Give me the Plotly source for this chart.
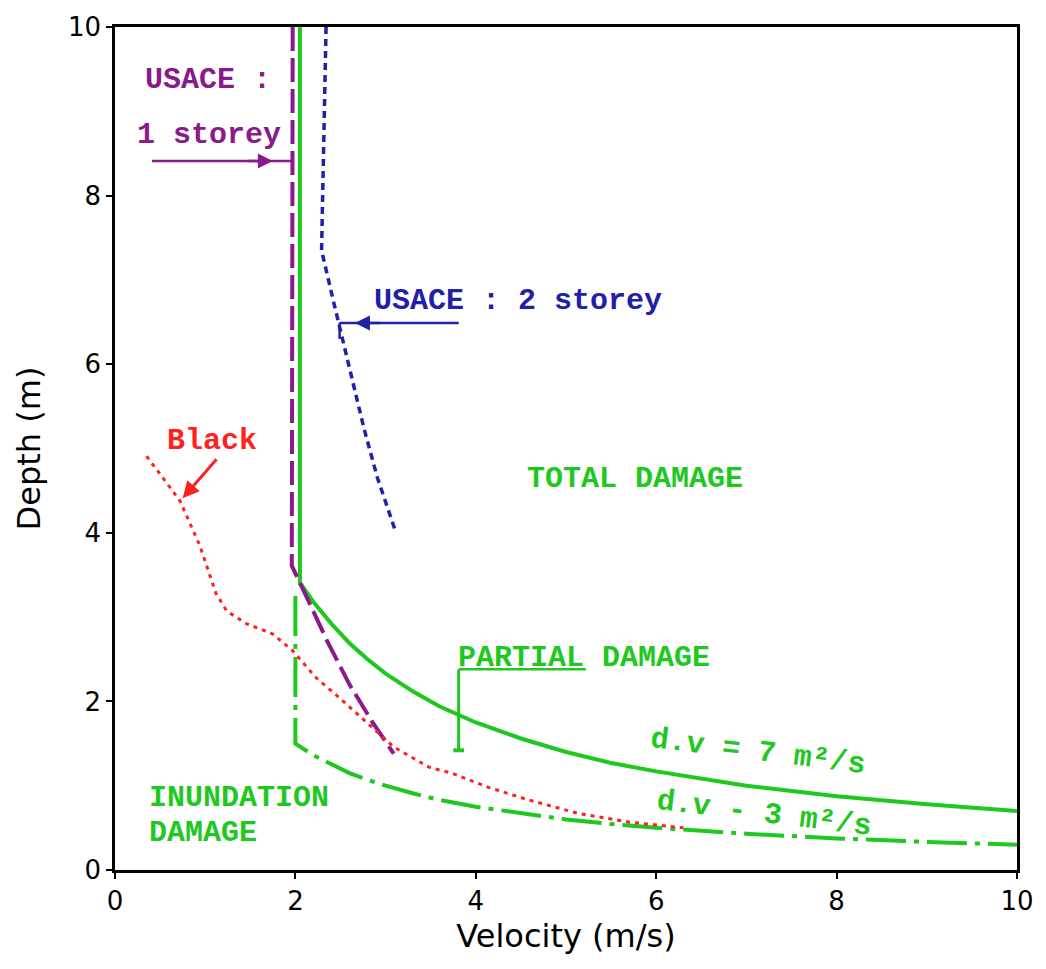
import plotly.graph_objects as go

# Damage thresholds: depth (m) against velocity (m/s)

# d.v = 7 m2/s limit (vertical at ~2 m/s, then the d.v curve)
dv7_v = [2.05, 2.05, 2.2, 2.4, 2.6, 2.8, 3.0, 3.3, 3.6, 4.0, 4.5, 5.0, 5.5, 6.0, 7.0, 8.0, 9.0, 10.0]
dv7_d = [10.0, 3.41, 3.18, 2.92, 2.69, 2.50, 2.33, 2.12, 1.94, 1.75, 1.56, 1.40, 1.27, 1.17, 1.00, 0.875, 0.78, 0.70]

# d.v = 3 m2/s limit
dv3_v = [2.0, 2.0, 2.2, 2.4, 2.6, 2.8, 3.0, 3.3, 3.6, 4.0, 4.5, 5.0, 5.5, 6.0, 7.0, 8.0, 9.0, 10.0]
dv3_d = [3.25, 1.50, 1.36, 1.25, 1.15, 1.07, 1.00, 0.91, 0.83, 0.75, 0.67, 0.60, 0.545, 0.50, 0.43, 0.375, 0.333, 0.30]

# USACE : 1 storey
usace1_v = [1.97, 1.96, 2.15, 2.35, 2.60, 2.85, 3.09]
usace1_d = [10.0, 3.61, 3.18, 2.72, 2.20, 1.76, 1.38]

# USACE : 2 storey
usace2_v = [2.34, 2.29, 2.43, 2.60, 2.76, 2.91, 3.10]
usace2_d = [10.0, 7.35, 6.71, 5.95, 5.24, 4.65, 4.05]

# Black
black_v = [0.35, 0.72, 0.94, 1.12, 1.24, 1.46, 1.75, 1.97, 2.23, 2.49, 2.78, 3.09, 3.48,
           3.73, 4.14, 4.59, 5.14, 5.69, 6.30]
black_d = [4.91, 4.38, 3.85, 3.28, 3.07, 2.92, 2.80, 2.60, 2.28, 2.04, 1.76, 1.46, 1.22,
           1.15, 0.98, 0.83, 0.67, 0.57, 0.50]

x_ticks = [0, 2, 4, 6, 8, 10]
y_ticks = [0, 2, 4, 6, 8, 10]

GREEN = "#1ec81e"
PURPLE = "#8a1a8a"
BLUE = "#2020a8"
RED = "#ff2020"
MONO = "Liberation Mono"

fig = go.Figure()
fig.add_trace(go.Scatter(x=dv7_v, y=dv7_d, mode="lines",
                         line=dict(color=GREEN, width=4)))
fig.add_trace(go.Scatter(x=dv3_v, y=dv3_d, mode="lines",
                         line=dict(color=GREEN, width=4, dash="40px,8px,5px,8px")))
fig.add_trace(go.Scatter(x=usace1_v, y=usace1_d, mode="lines",
                         line=dict(color=PURPLE, width=4, dash="24px,7px")))
fig.add_trace(go.Scatter(x=usace2_v, y=usace2_d, mode="lines",
                         line=dict(color=BLUE, width=3.5, dash="7px,5px")))
fig.add_trace(go.Scatter(x=black_v, y=black_d, mode="lines",
                         line=dict(color=RED, width=3, dash="4px,5px")))

shapes = [
    # USACE 1 storey pointer
    dict(type="line", x0=0.41, y0=8.41, x1=1.96, y1=8.41, line=dict(color=PURPLE, width=2.5)),
    # USACE 2 storey pointer
    dict(type="line", x0=2.49, y0=6.49, x1=3.81, y1=6.49, line=dict(color=BLUE, width=2.5)),
    dict(type="line", x0=2.49, y0=6.49, x1=2.49, y1=6.30, line=dict(color=BLUE, width=2.5)),
    # PARTIAL DAMAGE bracket
    dict(type="line", x0=3.81, y0=2.38, x1=5.22, y1=2.38, line=dict(color=GREEN, width=2.5)),
    dict(type="line", x0=3.81, y0=2.38, x1=3.81, y1=1.42, line=dict(color=GREEN, width=3)),
    dict(type="line", x0=3.75, y0=1.42, x1=3.87, y1=1.42, line=dict(color=GREEN, width=4)),
]
for s in shapes:
    s.update(xref="x", yref="y", layer="above")

ann = []


def label(text, x, y, color, xanchor="left", angle=0, size=30):
    ann.append(dict(x=x, y=y, xref="x", yref="y", text=text, showarrow=False,
                    xanchor=xanchor, yanchor="middle", textangle=angle,
                    font=dict(family=MONO, size=size, color=color, weight="bold")))


label("USACE :", 0.31, 9.37, PURPLE)
label("1 storey", 0.22, 8.72, PURPLE)
label("USACE : 2 storey", 2.85, 6.75, BLUE)
label("Black", 0.55, 5.09, RED)
label("TOTAL DAMAGE", 5.77, 4.64, GREEN, xanchor="center")
label("PARTIAL DAMAGE", 3.78, 2.51, GREEN)
label("d.v = 7 m²/s", 7.13, 1.40, GREEN, xanchor="center", angle=7)
label("d.v - 3 m²/s", 7.20, 0.66, GREEN, xanchor="center", angle=7)
label("INUNDATION", 0.36, 0.85, GREEN)
label("DAMAGE", 0.36, 0.44, GREEN)

# arrowheads on the pointers
ann.append(dict(x=1.75, y=8.41, ax=1.45, ay=8.41, xref="x", yref="y", axref="x", ayref="y",
                showarrow=True, arrowhead=2, arrowsize=1.2, arrowwidth=2.5,
                arrowcolor=PURPLE, text=""))
ann.append(dict(x=2.66, y=6.49, ax=2.95, ay=6.49, xref="x", yref="y", axref="x", ayref="y",
                showarrow=True, arrowhead=2, arrowsize=1.2, arrowwidth=2.5,
                arrowcolor=BLUE, text=""))
ann.append(dict(x=0.75, y=4.41, ax=1.14, ay=4.89, xref="x", yref="y", axref="x", ayref="y",
                showarrow=True, arrowhead=2, arrowsize=1.1, arrowwidth=3,
                arrowcolor=RED, text=""))

axis_common = dict(showgrid=False, zeroline=False, showline=True, linecolor="black",
                   linewidth=2.5, mirror=True, ticks="outside", ticklen=6, tickwidth=2,
                   tickcolor="black",
                   tickfont=dict(family="DejaVu Sans", size=26, color="black"))

fig.update_layout(
    width=1046, height=969,
    margin=dict(l=115, r=26, t=25, b=99),
    paper_bgcolor="white", plot_bgcolor="white",
    showlegend=False,
    shapes=shapes, annotations=ann,
    xaxis=dict(range=[0, 10], tickvals=x_ticks, ticktext=[str(t) for t in x_ticks],
               title=dict(text="Velocity (m/s)", standoff=10,
                          font=dict(family="DejaVu Sans", size=32, color="black")),
               **axis_common),
    yaxis=dict(range=[0, 10], tickvals=y_ticks, ticktext=[str(t) for t in y_ticks],
               title=dict(text="Depth (m)", standoff=18,
                          font=dict(family="DejaVu Sans", size=32, color="black")),
               **axis_common),
)

fig.write_html("out.html")
